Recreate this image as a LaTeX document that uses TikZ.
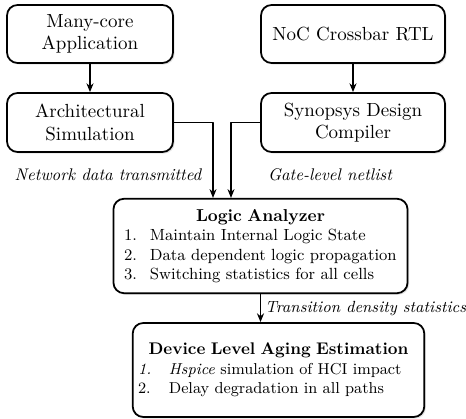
\documentclass[tikz,border=0pt]{standalone}
\usepackage{xcolor}
\usepackage{tikz}
\usetikzlibrary{calc,arrows.meta,positioning,shadows}

\begin{document}
\begin{tikzpicture}[
  line cap=round,
  line join=round,
  >={Stealth[length=5pt,width=4pt]},
  procbox/.style={draw=black,line width=1pt,rounded corners=6pt,fill=white,
    align=center,inner sep=3pt,font=\fontsize{10.8}{12.8}\selectfont,
    drop shadow={shadow xshift=0.9pt,shadow yshift=-0.9pt,fill=black!22}},
  listbox/.style={procbox,align=left,font=\fontsize{9.2}{11}\selectfont},
  flow/.style={black,line width=0.7pt,->},
  flowlabel/.style={font=\fontsize{9.6}{12}\selectfont\itshape}
]
\path[use as bounding box] (0,0) rectangle (9.32,8.38);

% source boxes
\node[procbox,minimum width=3.32cm,minimum height=1.16cm] (app) at (1.80,7.70)
  {Many-core\\Application};
\node[procbox,minimum width=3.32cm,minimum height=1.18cm] (archsim) at (1.80,5.93)
  {Architectural\\Simulation};
\node[procbox,minimum width=3.68cm,minimum height=1.16cm] (rtl) at (7.06,7.70)
  {NoC Crossbar RTL};
\node[procbox,minimum width=3.68cm,minimum height=1.18cm] (dc) at (7.06,5.93)
  {Synopsys Design\\Compiler};

\node[flowlabel] (netdata) at (2.16,4.88) {Network data transmitted};
\node[flowlabel] (netlist) at (6.60,4.88) {Gate-level netlist};

% analysis boxes
\node[listbox,text width=5.46cm,minimum height=1.88cm,inner sep=6pt] (analyzer) at (5.21,3.46)
{
  \hfil{\fontsize{9.8}{12}\selectfont\bfseries Logic Analyzer}\hfil\\
  \makebox[1.6em][l]{1.}Maintain Internal Logic State\\
  \makebox[1.6em][l]{2.}Data dependent logic propagation\\
  \makebox[1.6em][l]{3.}Switching statistics for all cells
};
\node[listbox,text width=5.62cm,minimum height=1.88cm,inner sep=3pt,
  font=\fontsize{9}{11}\selectfont] (aging) at (5.57,0.98)
{
  \hfil{\fontsize{9.6}{12.5}\selectfont\bfseries Device Level Aging Estimation}\hfil\\
  \makebox[1.95em][l]{\itshape 1.}\textit{Hspice} simulation of HCI impact\\
  \makebox[1.95em][l]{2.}Delay degradation in all paths\\[3pt]
};

% connectors
\draw[flow] (app) -- (archsim);
\draw[flow] (rtl) -- (dc);
\draw[flow] (archsim.east) -| ($(analyzer.north)+(-0.95,0)$);
\draw[flow] (dc.west) -| ($(analyzer.north)+(-0.59,0)$);
\draw[flow] (analyzer.south) -- (analyzer.south |- aging.north)
  node[midway,right=-1pt,flowlabel,font=\fontsize{9.2}{11}\selectfont\itshape] (density)
  {Transition density statistics};
\end{tikzpicture}
\end{document}
